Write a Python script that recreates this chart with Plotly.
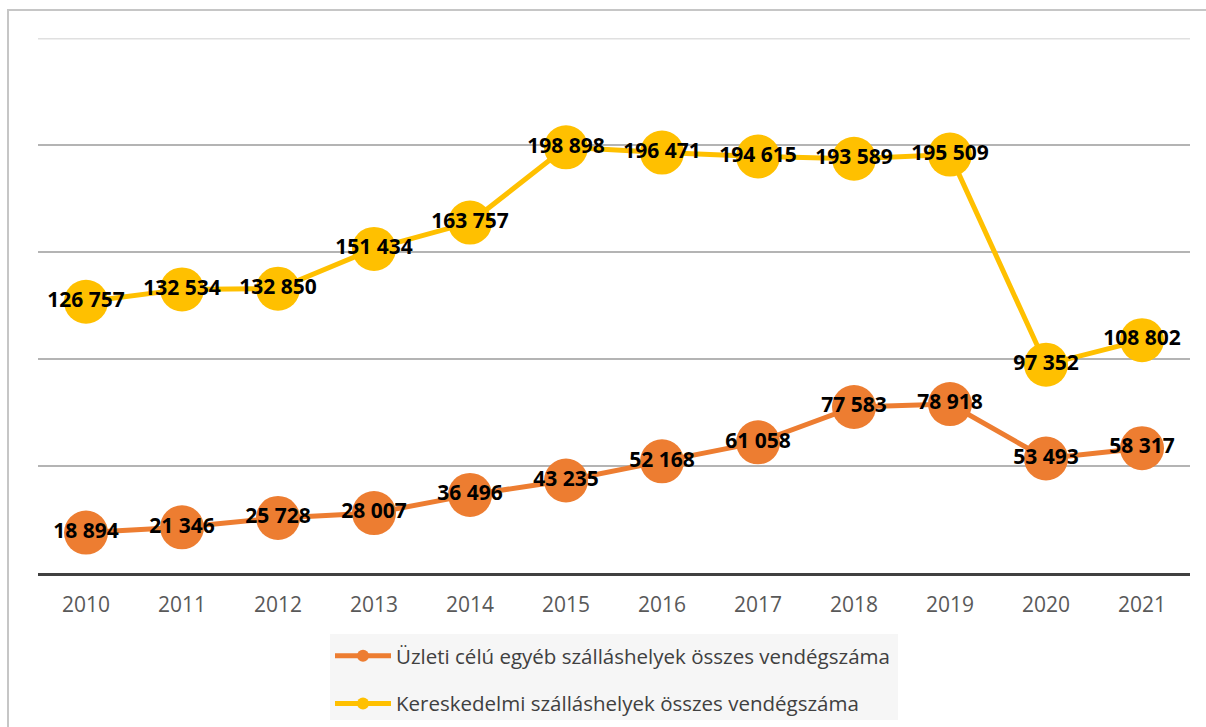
import plotly.graph_objects as go

# Vendégszám évente, két szálláshely-típusra
years = ["2010", "2011", "2012", "2013", "2014", "2015",
         "2016", "2017", "2018", "2019", "2020", "2021"]
uzleti = [18894, 21346, 25728, 28007, 36496, 43235,
          52168, 61058, 77583, 78918, 53493, 58317]
kereskedelmi = [126757, 132534, 132850, 151434, 163757, 198898,
                196471, 194615, 193589, 195509, 97352, 108802]

name_uzleti = "Üzleti célú egyéb szálláshelyek összes vendégszáma"
name_keresk = "Kereskedelmi szálláshelyek összes vendégszáma"

ORANGE = "#ED7D31"
YELLOW = "#FFC000"
FONT = "Open Sans"

# plot area in pixels: x 38..1190, y 38..573
PW, PH, BOTTOM = 1152, 535, 573


def px_x(p):
    return (p - 38) / PW


def px_y(p):
    return (BOTTOM - p) / PH


def fmt(v):
    return f"{v:,}".replace(",", " ")


fig = go.Figure()

for name, vals, color, grp in [(name_uzleti, uzleti, ORANGE, "a"),
                               (name_keresk, kereskedelmi, YELLOW, "b")]:
    fig.add_trace(go.Scatter(
        x=years, y=vals, name=name, legendgroup=grp,
        mode="lines+markers+text",
        line=dict(color=color, width=5),
        marker=dict(color=color, size=44),
        text=[fmt(v) for v in vals],
        textposition="middle center",
        textfont=dict(family=FONT, size=21, color="black", weight="bold"),
        cliponaxis=False,
    ))

# Keret a diagram körül
fig.add_shape(type="rect", xref="paper", yref="paper",
              x0=px_x(8), x1=1.1, y0=-0.4, y1=px_y(10),
              line=dict(color="#c6c6c6", width=2), fillcolor="rgba(0,0,0,0)",
              layer="below")
# Jelmagyarázat háttere
fig.add_shape(type="rect", xref="paper", yref="paper",
              x0=px_x(330), x1=px_x(898), y0=px_y(720), y1=px_y(634),
              line=dict(width=0), fillcolor="#f6f6f6", layer="below")
# Felső, halványabb rácsvonal
fig.add_shape(type="line", xref="paper", yref="y",
              x0=0, x1=1, y0=250000, y1=250000,
              line=dict(color="#e0e0e0", width=3), layer="below")

fig.update_layout(
    width=1206, height=727,
    margin=dict(l=38, r=16, t=38, b=154, autoexpand=False),
    paper_bgcolor="white", plot_bgcolor="white",
    font=dict(family=FONT, color="#404040"),
    showlegend=True,
    legend=dict(
        x=px_x(330), y=px_y(636),
        xanchor="left", yanchor="top",
        orientation="v", traceorder="grouped", tracegroupgap=18,
        bgcolor="rgba(0,0,0,0)",
        font=dict(family=FONT, size=20.5, color="#404040"),
        itemsizing="constant", itemwidth=56,
    ),
    xaxis=dict(
        type="category", range=[-0.5, 11.5],
        showgrid=False, zeroline=False,
        showline=True, linecolor="#404040", linewidth=3,
        ticks="outside", ticklen=11, tickcolor="rgba(0,0,0,0)",
        tickfont=dict(family=FONT, size=21, color="#595959"),
        fixedrange=True,
    ),
    yaxis=dict(
        range=[0, 250000],
        tickvals=[50000, 100000, 150000, 200000],
        showticklabels=False,
        showgrid=True, gridcolor="#b4b4b4", gridwidth=2,
        zeroline=False, showline=False,
        fixedrange=True,
    ),
)

fig.write_html("out.html")
